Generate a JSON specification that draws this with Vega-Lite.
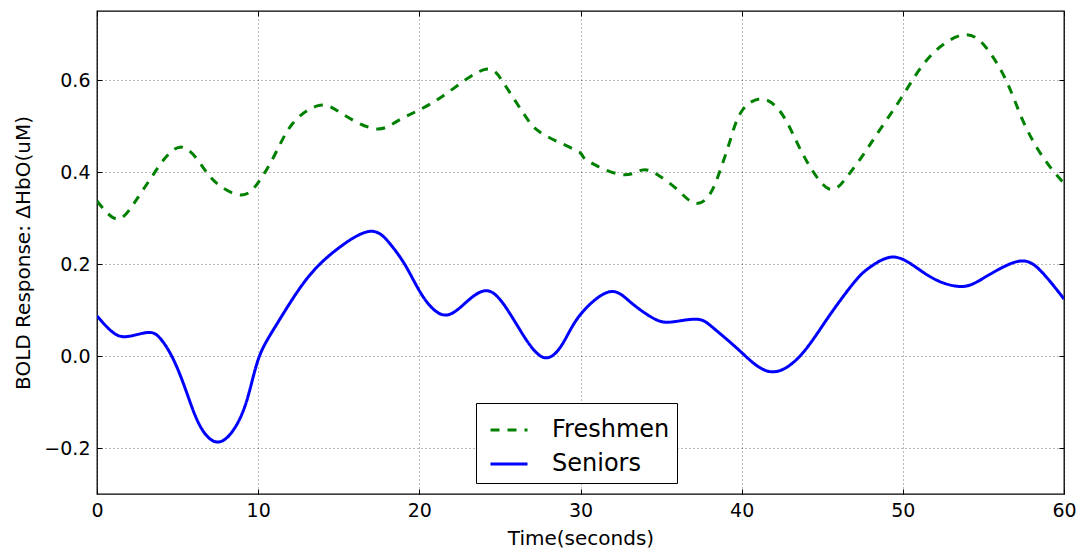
{
  "$schema": "https://vega.github.io/schema/vega-lite/v6.json",
  "width": 967,
  "height": 483,
  "autosize": {"type": "none"},
  "padding": {"left": 97, "top": 11, "right": 12, "bottom": 54},
  "background": "white",
  "config": {
    "font": "DejaVu Sans",
    "view": {"stroke": "black", "strokeWidth": 1.3},
    "axis": {
      "domain": false,
      "labelFont": "DejaVu Sans",
      "labelFontSize": 19,
      "labelColor": "black",
      "labelFlush": false,
      "titleFont": "DejaVu Sans",
      "titleFontSize": 20,
      "titleFontWeight": "normal",
      "titleColor": "black",
      "tickColor": "black",
      "tickSize": -5,
      "tickWidth": 1,
      "gridColor": "#000000",
      "gridOpacity": 0.55,
      "gridDash": [1, 3],
      "gridWidth": 1
    },
    "legend": {
      "orient": "none",
      "legendX": 379,
      "legendY": 392,
      "strokeColor": "black",
      "fillColor": "white",
      "padding": 7,
      "cornerRadius": 0,
      "symbolType": "stroke",
      "symbolStrokeWidth": 3,
      "symbolSize": 1369,
      "symbolOffset": 6,
      "labelFont": "DejaVu Sans",
      "labelFontSize": 24,
      "labelColor": "black",
      "labelOffset": 23,
      "rowPadding": 2,
      "labelLimit": 300
    }
  },
  "data": {
    "values": [
      {"t": 0, "v": 0.337, "g": "Freshmen"},
      {"t": 1.22, "v": 0.298, "g": "Freshmen"},
      {"t": 2.26, "v": 0.33, "g": "Freshmen"},
      {"t": 3.5, "v": 0.395, "g": "Freshmen"},
      {"t": 5.15, "v": 0.454, "g": "Freshmen"},
      {"t": 6.6, "v": 0.409, "g": "Freshmen"},
      {"t": 7.63, "v": 0.37, "g": "Freshmen"},
      {"t": 8.98, "v": 0.35, "g": "Freshmen"},
      {"t": 10.0, "v": 0.377, "g": "Freshmen"},
      {"t": 11.04, "v": 0.438, "g": "Freshmen"},
      {"t": 12.18, "v": 0.507, "g": "Freshmen"},
      {"t": 13.84, "v": 0.545, "g": "Freshmen"},
      {"t": 15.28, "v": 0.525, "g": "Freshmen"},
      {"t": 17.25, "v": 0.494, "g": "Freshmen"},
      {"t": 18.6, "v": 0.51, "g": "Freshmen"},
      {"t": 20.0, "v": 0.535, "g": "Freshmen"},
      {"t": 21.7, "v": 0.571, "g": "Freshmen"},
      {"t": 23.97, "v": 0.622, "g": "Freshmen"},
      {"t": 25.2, "v": 0.595, "g": "Freshmen"},
      {"t": 26.45, "v": 0.528, "g": "Freshmen"},
      {"t": 27.28, "v": 0.492, "g": "Freshmen"},
      {"t": 28.52, "v": 0.467, "g": "Freshmen"},
      {"t": 29.97, "v": 0.442, "g": "Freshmen"},
      {"t": 30.38, "v": 0.426, "g": "Freshmen"},
      {"t": 32.45, "v": 0.395, "g": "Freshmen"},
      {"t": 33.8, "v": 0.404, "g": "Freshmen"},
      {"t": 34.73, "v": 0.395, "g": "Freshmen"},
      {"t": 35.97, "v": 0.363, "g": "Freshmen"},
      {"t": 37.1, "v": 0.332, "g": "Freshmen"},
      {"t": 38.03, "v": 0.352, "g": "Freshmen"},
      {"t": 38.65, "v": 0.402, "g": "Freshmen"},
      {"t": 39.27, "v": 0.467, "g": "Freshmen"},
      {"t": 40.0, "v": 0.532, "g": "Freshmen"},
      {"t": 41.24, "v": 0.559, "g": "Freshmen"},
      {"t": 42.38, "v": 0.532, "g": "Freshmen"},
      {"t": 43.2, "v": 0.481, "g": "Freshmen"},
      {"t": 44.03, "v": 0.424, "g": "Freshmen"},
      {"t": 45.38, "v": 0.364, "g": "Freshmen"},
      {"t": 46.5, "v": 0.388, "g": "Freshmen"},
      {"t": 47.55, "v": 0.438, "g": "Freshmen"},
      {"t": 48.58, "v": 0.492, "g": "Freshmen"},
      {"t": 50.03, "v": 0.568, "g": "Freshmen"},
      {"t": 51.68, "v": 0.651, "g": "Freshmen"},
      {"t": 53.75, "v": 0.698, "g": "Freshmen"},
      {"t": 55.2, "v": 0.669, "g": "Freshmen"},
      {"t": 56.44, "v": 0.597, "g": "Freshmen"},
      {"t": 57.47, "v": 0.51, "g": "Freshmen"},
      {"t": 58.72, "v": 0.431, "g": "Freshmen"},
      {"t": 60, "v": 0.375, "g": "Freshmen"},
      {"t": 0, "v": 0.087, "g": "Seniors"},
      {"t": 0.83, "v": 0.056, "g": "Seniors"},
      {"t": 1.76, "v": 0.042, "g": "Seniors"},
      {"t": 3.1, "v": 0.051, "g": "Seniors"},
      {"t": 3.93, "v": 0.038, "g": "Seniors"},
      {"t": 4.76, "v": -0.009, "g": "Seniors"},
      {"t": 5.58, "v": -0.081, "g": "Seniors"},
      {"t": 6.41, "v": -0.153, "g": "Seniors"},
      {"t": 7.45, "v": -0.187, "g": "Seniors"},
      {"t": 8.48, "v": -0.16, "g": "Seniors"},
      {"t": 9.31, "v": -0.095, "g": "Seniors"},
      {"t": 10.0, "v": -0.008, "g": "Seniors"},
      {"t": 10.96, "v": 0.058, "g": "Seniors"},
      {"t": 12.4, "v": 0.138, "g": "Seniors"},
      {"t": 13.64, "v": 0.193, "g": "Seniors"},
      {"t": 15.08, "v": 0.237, "g": "Seniors"},
      {"t": 16.94, "v": 0.271, "g": "Seniors"},
      {"t": 18.18, "v": 0.244, "g": "Seniors"},
      {"t": 19.2, "v": 0.193, "g": "Seniors"},
      {"t": 20.25, "v": 0.128, "g": "Seniors"},
      {"t": 21.59, "v": 0.089, "g": "Seniors"},
      {"t": 22.94, "v": 0.118, "g": "Seniors"},
      {"t": 24.18, "v": 0.142, "g": "Seniors"},
      {"t": 25.2, "v": 0.114, "g": "Seniors"},
      {"t": 26.24, "v": 0.057, "g": "Seniors"},
      {"t": 27.69, "v": -0.003, "g": "Seniors"},
      {"t": 28.93, "v": 0.029, "g": "Seniors"},
      {"t": 29.97, "v": 0.089, "g": "Seniors"},
      {"t": 31.73, "v": 0.139, "g": "Seniors"},
      {"t": 33.07, "v": 0.118, "g": "Seniors"},
      {"t": 34.52, "v": 0.082, "g": "Seniors"},
      {"t": 35.66, "v": 0.074, "g": "Seniors"},
      {"t": 37.2, "v": 0.08, "g": "Seniors"},
      {"t": 38.24, "v": 0.061, "g": "Seniors"},
      {"t": 39.89, "v": 0.011, "g": "Seniors"},
      {"t": 41.76, "v": -0.034, "g": "Seniors"},
      {"t": 43.62, "v": 0.0, "g": "Seniors"},
      {"t": 45.27, "v": 0.079, "g": "Seniors"},
      {"t": 46.93, "v": 0.158, "g": "Seniors"},
      {"t": 47.96, "v": 0.193, "g": "Seniors"},
      {"t": 49.3, "v": 0.215, "g": "Seniors"},
      {"t": 50.64, "v": 0.197, "g": "Seniors"},
      {"t": 52.09, "v": 0.165, "g": "Seniors"},
      {"t": 53.65, "v": 0.151, "g": "Seniors"},
      {"t": 54.99, "v": 0.169, "g": "Seniors"},
      {"t": 57.06, "v": 0.205, "g": "Seniors"},
      {"t": 58.5, "v": 0.187, "g": "Seniors"},
      {"t": 60, "v": 0.124, "g": "Seniors"}
    ]
  },
  "layer": [
    {
      "mark": {"type": "line", "strokeWidth": 3, "interpolate": "natural", "clip": true},
      "encoding": {
        "x": {
          "field": "t", "type": "quantitative",
          "scale": {"domain": [0, 60], "nice": false, "zero": false},
          "axis": {"title": "Time(seconds)", "values": [0, 10, 20, 30, 40, 50, 60], "labelPadding": 12, "titlePadding": 8, "format": "d"}
        },
        "y": {
          "field": "v", "type": "quantitative",
          "scale": {"domain": [-0.3, 0.75], "nice": false, "zero": false},
          "axis": {"title": "BOLD Response: ΔHbO(uM)", "values": [-0.2, 0, 0.2, 0.4, 0.6], "format": ".1f", "labelPadding": 12, "titlePadding": 10}
        },
        "color": {
          "field": "g", "type": "nominal",
          "scale": {"domain": ["Freshmen", "Seniors"], "range": ["#008000", "#0000ff"]},
          "legend": {"title": null}
        },
        "strokeDash": {
          "field": "g", "type": "nominal",
          "scale": {"domain": ["Freshmen", "Seniors"], "range": [[9, 8], [1, 0]]},
          "legend": {"title": null}
        }
      }
    },
    {
      "mark": {"type": "line", "opacity": 0},
      "encoding": {
        "x": {
          "field": "t", "type": "quantitative",
          "axis": {"orient": "top", "title": null, "labels": false, "grid": false, "values": [0, 10, 20, 30, 40, 50, 60]}
        },
        "y": {
          "field": "v", "type": "quantitative",
          "axis": {"orient": "right", "title": null, "labels": false, "grid": false, "values": [-0.2, 0, 0.2, 0.4, 0.6]}
        }
      }
    }
  ],
  "resolve": {"axis": {"x": "independent", "y": "independent"}}
}
